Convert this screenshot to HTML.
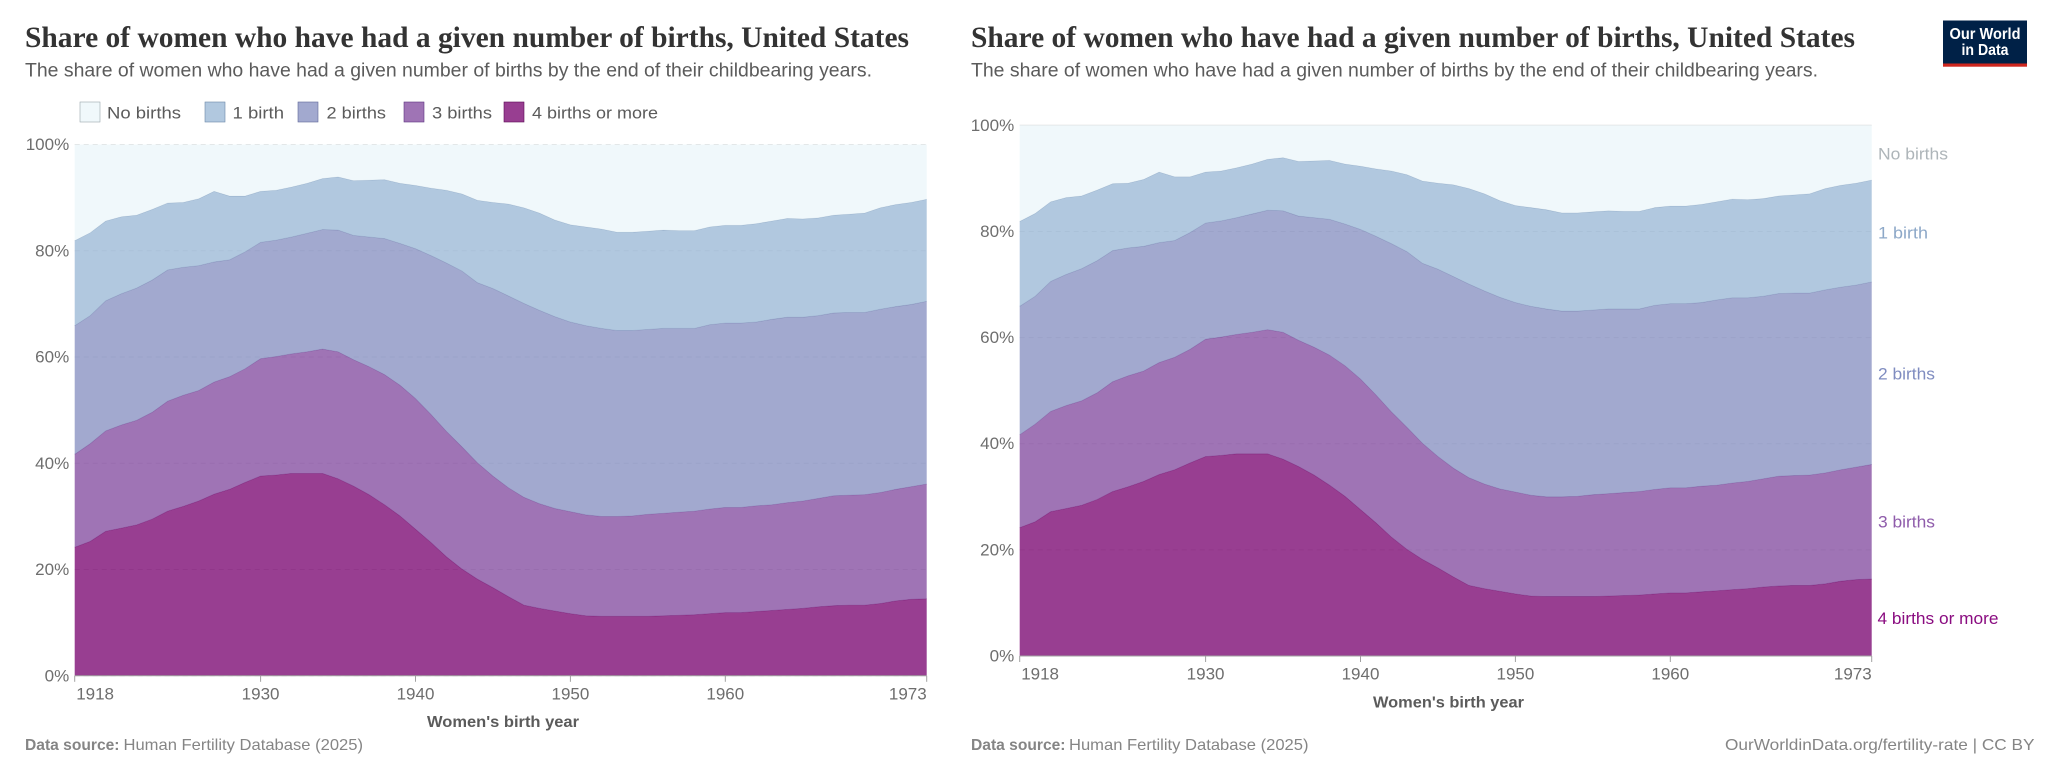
<!DOCTYPE html>
<html lang="en">
<head>
<meta charset="utf-8">
<title>Share of women who have had a given number of births, United States</title>
<style>
html,body{margin:0;padding:0;background:#fff;}
svg{display:block;font-family:"Liberation Sans",sans-serif;}
.title{font-family:"Liberation Serif",serif;font-weight:700;font-size:30px;fill:#333;}
.sub{font-size:19px;fill:#5b5b5b;}
.leg{font-size:17px;fill:#5b5b5b;}
.foot{font-size:16px;fill:#858585;}
.foot-b{font-size:16px;fill:#858585;font-weight:700;}
.axt{font-size:16px;fill:#5b5b5b;font-weight:700;}
.ser{font-size:17px;}
</style>
</head>
<body>
<svg id="root" width="2048" height="775" viewBox="0 0 2048 775" xmlns="http://www.w3.org/2000/svg">
  <rect x="0" y="0" width="2048" height="775" fill="#ffffff"/>

  <!-- Left chart header -->
  <text class="title" x="25" y="47" textLength="884" lengthAdjust="spacingAndGlyphs">Share of women who have had a given number of births, United States</text>
  <text class="sub" x="25" y="76.5" textLength="847" lengthAdjust="spacingAndGlyphs">The share of women who have had a given number of births by the end of their childbearing years.</text>

  <!-- Left chart legend -->
  <g>
    <g>
      <rect x="80" y="102" width="20" height="20" fill="#ecf6fa" fill-opacity="0.8" stroke="#9aa5ab" stroke-width="0.6"/>
      <text class="leg" x="107" y="118.5" textLength="74" lengthAdjust="spacingAndGlyphs">No births</text>
    </g>
    <g>
      <rect x="205" y="102" width="20" height="20" fill="#9dbad7" fill-opacity="0.8" stroke="#6c88a8" stroke-width="0.6"/>
      <text class="leg" x="232.5" y="118.5" textLength="51.5" lengthAdjust="spacingAndGlyphs">1 birth</text>
    </g>
    <g>
      <rect x="298" y="102" width="20" height="20" fill="#8b94c3" fill-opacity="0.8" stroke="#5f6898" stroke-width="0.6"/>
      <text class="leg" x="326.5" y="118.5" textLength="59.5" lengthAdjust="spacingAndGlyphs">2 births</text>
    </g>
    <g>
      <rect x="404" y="102" width="20" height="20" fill="#8751a2" fill-opacity="0.8" stroke="#5e3580" stroke-width="0.6"/>
      <text class="leg" x="432" y="118.5" textLength="60" lengthAdjust="spacingAndGlyphs">3 births</text>
    </g>
    <g>
      <rect x="504" y="102" width="20" height="20" fill="#7e0e75" fill-opacity="0.8" stroke="#5c0a55" stroke-width="0.6"/>
      <text class="leg" x="532" y="118.5" textLength="126" lengthAdjust="spacingAndGlyphs">4 births or more</text>
    </g>
  </g>

  <g id="left-chart"></g>

  <text class="axt" x="427" y="727" textLength="152" lengthAdjust="spacingAndGlyphs">Women's birth year</text>
  <text class="foot-b" x="25" y="750" textLength="94.5" lengthAdjust="spacingAndGlyphs">Data source:</text>
  <text class="foot" x="123.5" y="750" textLength="239.5" lengthAdjust="spacingAndGlyphs">Human Fertility Database (2025)</text>

  <!-- Right chart header -->
  <text class="title" x="971" y="47" textLength="884" lengthAdjust="spacingAndGlyphs">Share of women who have had a given number of births, United States</text>
  <text class="sub" x="971" y="76.5" textLength="847" lengthAdjust="spacingAndGlyphs">The share of women who have had a given number of births by the end of their childbearing years.</text>

  <g id="right-chart"></g>

  <!-- Right chart series labels -->
  <text class="ser" fill="#aeb5b9" x="1878" y="159.5" textLength="70" lengthAdjust="spacingAndGlyphs">No births</text>
  <text class="ser" fill="#8da8c8" x="1878" y="238.5" textLength="50" lengthAdjust="spacingAndGlyphs">1 birth</text>
  <text class="ser" fill="#7f8cc0" x="1878" y="379.5" textLength="57" lengthAdjust="spacingAndGlyphs">2 births</text>
  <text class="ser" fill="#8f5cab" x="1878" y="527.5" textLength="57" lengthAdjust="spacingAndGlyphs">3 births</text>
  <text class="ser" fill="#8a0c80" x="1877.5" y="624" textLength="121" lengthAdjust="spacingAndGlyphs">4 births or more</text>

  <text class="axt" x="1373" y="707.5" textLength="151" lengthAdjust="spacingAndGlyphs">Women's birth year</text>
  <text class="foot-b" x="971" y="750" textLength="94.5" lengthAdjust="spacingAndGlyphs">Data source:</text>
  <text class="foot" x="1069" y="750" textLength="239.5" lengthAdjust="spacingAndGlyphs">Human Fertility Database (2025)</text>
  <text class="foot" x="1725" y="750" textLength="309.5" lengthAdjust="spacingAndGlyphs">OurWorldinData.org/fertility-rate | CC BY</text>

  <!-- Logo -->
  <g>
    <rect x="1943" y="20.5" width="84" height="46" fill="#002147"/>
    <rect x="1943" y="63.5" width="84" height="3.2" fill="#ce261e"/>
    <text x="1985" y="39" text-anchor="middle" fill="#ffffff" font-weight="700" font-size="15.5" textLength="71" lengthAdjust="spacingAndGlyphs">Our World</text>
    <text x="1985" y="55" text-anchor="middle" fill="#ffffff" font-weight="700" font-size="15.5" textLength="47" lengthAdjust="spacingAndGlyphs">in Data</text>
  </g>
</svg>

<script>
var startYear = 1918;
var endYear = 1973;
var xTickYears = [1918, 1930, 1940, 1950, 1960, 1973];
var yTickValues = [0, 20, 40, 60, 80, 100];

var seriesNames = ["4 births or more", "3 births", "2 births", "1 birth", "No births"];

var fourOrMore = [24.2,25.3,27.2,27.8,28.4,29.5,31.0,31.9,32.9,34.2,35.1,36.4,37.6,37.8,38.1,38.1,38.1,37.1,35.7,34.1,32.2,30.1,27.6,25.1,22.4,20.1,18.2,16.6,14.9,13.3,12.7,12.2,11.7,11.3,11.2,11.2,11.2,11.2,11.3,11.4,11.5,11.7,11.9,11.9,12.1,12.3,12.5,12.7,13.0,13.2,13.3,13.3,13.6,14.1,14.4,14.5];
var threeBirths = [17.5,18.4,18.9,19.4,19.7,20.1,20.7,20.9,20.8,21.1,21.2,21.4,22.1,22.3,22.5,22.9,23.4,23.9,23.8,24.1,24.5,24.6,24.6,24.1,23.6,23.0,21.9,21.0,20.5,20.3,19.7,19.3,19.2,19.0,18.8,18.8,18.9,19.2,19.3,19.4,19.5,19.7,19.8,19.8,19.9,19.9,20.1,20.2,20.4,20.7,20.7,20.8,20.9,21.0,21.2,21.6];
var twoBirths = [24.2,24.1,24.5,24.7,24.9,24.9,24.7,24.1,23.5,22.6,22.0,22.0,21.9,21.9,22.0,22.3,22.5,22.9,23.4,24.4,25.6,26.7,28.2,29.9,31.7,33.1,33.9,35.3,36.1,36.5,36.4,36.1,35.7,35.6,35.4,35.0,34.9,34.8,34.8,34.6,34.4,34.7,34.7,34.7,34.6,34.9,34.9,34.6,34.4,34.4,34.4,34.3,34.5,34.4,34.3,34.4];
var oneBirth = [16.0,15.6,15.0,14.5,13.7,13.3,12.6,12.2,12.6,13.3,12.0,10.5,9.6,9.4,9.4,9.4,9.6,10.0,10.3,10.7,11.1,11.3,11.9,12.7,13.7,14.5,15.5,16.2,17.3,18.0,18.3,18.2,18.3,18.6,18.7,18.5,18.5,18.5,18.5,18.4,18.4,18.4,18.4,18.4,18.5,18.5,18.6,18.5,18.4,18.4,18.5,18.7,19.1,19.2,19.2,19.2];
var noBirths = [18.1,16.6,14.4,13.6,13.3,12.2,11.0,10.9,10.2,8.8,9.7,9.7,8.8,8.6,8.0,7.3,6.4,6.1,6.8,6.7,6.6,7.3,7.7,8.2,8.6,9.3,10.5,10.9,11.2,11.9,12.9,14.2,15.1,15.5,15.9,16.5,16.5,16.3,16.1,16.2,16.2,15.5,15.2,15.2,14.9,14.4,13.9,14.0,13.8,13.3,13.1,12.9,11.9,11.3,10.9,10.3];

var seriesValues = [fourOrMore, threeBirths, twoBirths, oneBirth, noBirths];
var seriesColors = ["#7e0e75", "#8751a2", "#8b94c3", "#9dbad7", "#ecf6fa"];
var seriesLines = ["#6d0c66", "#6f4390", "#6f78a8", "#7d99b8", "#b9c6cc"];

var NS = "http://www.w3.org/2000/svg";

function slug(s) {
  return s.toLowerCase().replace(/\s+/g, "-");
}

function make(tag, attrs, parent) {
  var n = document.createElementNS(NS, tag);
  for (var k in attrs) { n.setAttribute(k, attrs[k]); }
  parent.appendChild(n);
  return n;
}

function drawChart(group, prefix, left, right, top, bottom, solidTop) {
  function xScale(year) {
    return left + (year - startYear) / (endYear - startYear) * (right - left);
  }
  function yScale(v) {
    return bottom - v / 100 * (bottom - top);
  }

  yTickValues.forEach(function (v) {
    var line = make("line", {
      x1: left, x2: right, y1: yScale(v), y2: yScale(v),
      stroke: "#dddddd", "stroke-width": 1,
      "stroke-dasharray": (solidTop && v === 100) ? "none" : "5,4"
    }, group);
    
    

    var label = make("text", {
      x: left - 5.5, y: yScale(v) + 5.5, "text-anchor": "end",
      "font-size": 17, fill: "#6e6e6e"
    }, group);
    
    
    label.textContent = v + "%";
  });

  var baseline = fourOrMore.map(function () { return 0; });
  seriesValues.forEach(function (vals, s) {
    var tops = vals.map(function (v, i) { return baseline[i] + v; });
    var upper = tops.map(function (v, i) {
      return xScale(startYear + i).toFixed(2) + "," + yScale(v).toFixed(2);
    });
    var lower = baseline.map(function (v, i) {
      return xScale(startYear + i).toFixed(2) + "," + yScale(v).toFixed(2);
    }).reverse();

    var area = make("path", {
      d: "M" + upper.join("L") + "L" + lower.join("L") + "Z",
      fill: seriesColors[s], "fill-opacity": 0.8, stroke: "none"
    }, group);
    
    

    if (s < seriesValues.length - 1) {
      var edge = make("path", {
        d: "M" + upper.join("L"), fill: "none",
        stroke: seriesLines[s], "stroke-width": 0.8, "stroke-opacity": 0.55
      }, group);
      
      
    }
    baseline = tops;
  });

  var axis = make("line", {
    x1: left, x2: right, y1: bottom, y2: bottom, stroke: "#a1a1a1", "stroke-width": 1
  }, group);
  
  

  xTickYears.forEach(function (year, i) {
    var tick = make("line", {
      x1: xScale(year), x2: xScale(year), y1: bottom, y2: bottom + 6,
      stroke: "#a1a1a1", "stroke-width": 1
    }, group);
    
    

    var anchor = i === 0 ? "start" : (i === xTickYears.length - 1 ? "end" : "middle");
    var shift = i === 0 ? 1.5 : 0;
    var label = make("text", {
      x: xScale(year) + shift, y: bottom + 23.5, "text-anchor": anchor,
      "font-size": 17, fill: "#6e6e6e"
    }, group);
    
    
    label.textContent = year;
  });
}

drawChart(document.getElementById("left-chart"), "left", 74.7, 926.7, 144.5, 675.8, false);
drawChart(document.getElementById("right-chart"), "right", 1019.7, 1871.7, 125.3, 656, true);
</script>
</body>
</html>
